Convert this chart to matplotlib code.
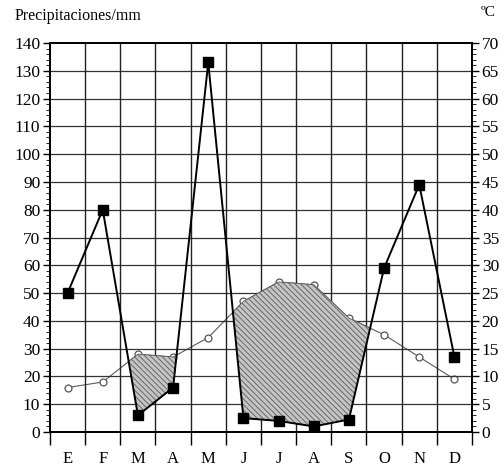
import matplotlib
matplotlib.use("Agg")
import matplotlib.pyplot as plt
import numpy as np

months = ["E", "F", "M", "A", "M", "J", "J", "A", "S", "O", "N", "D"]
precip_mm = [50, 80, 6, 16, 133, 5, 4, 2, 4.5, 59, 89, 27]
temp_c = [8, 9, 14, 13.5, 17, 23.5, 27, 26.5, 20.5, 17.5, 13.5, 9.5]

plt.rcParams['font.family'] = ['Liberation Serif', 'DejaVu Serif']
plt.rcParams['hatch.linewidth'] = 0.6

fig = plt.figure(figsize=(5.04, 4.68), dpi=100)
ax = fig.add_axes([0.0992, 0.0769, 0.8373, 0.8312])
ax2 = ax.twinx()

x = np.arange(len(months)) + 0.5
P = np.array(precip_mm, dtype=float)
T2 = np.array(temp_c, dtype=float) * 2  # climograph convention P = 2T

ax.set_xlim(0, 12)
ax.set_ylim(0, 140)
ax2.set_ylim(0, 70)

# grid
for v in range(10, 140, 10):
    ax.axhline(v, color='#333333', lw=0.9, zorder=1)
for i in range(1, 12):
    ax.axvline(i, color='#222222', lw=1.0, zorder=1)

# shaded arid periods
ax.fill_between(x, P, T2, where=T2 > P, interpolate=True,
                facecolor='#c4c4c4', edgecolor='#5a5a5a', hatch='\\\\\\\\\\\\',
                lw=0.6, zorder=2)

# temperature
ax2.plot(x, temp_c, color='#5a5a5a', lw=0.8, marker='o', ms=5,
         mfc='white', mec='#555555', mew=0.9, zorder=3)
# precipitation
ax.plot(x, precip_mm, color='black', lw=1.4, marker='s', ms=6.5,
        mfc='black', mec='black', zorder=4)
ax.set_zorder(ax2.get_zorder() + 1)
ax.patch.set_visible(False)

ax.set_xticks(np.arange(0, 13))
ax.set_xticklabels([])
ax.set_xticks(x, minor=True)
ax.set_xticklabels(months, minor=True, fontsize=12)
ax.tick_params(axis='x', which='major', length=9, width=1.0, direction='out')
ax.tick_params(axis='x', which='minor', length=0, pad=14)

ax.set_yticks(np.arange(0, 141, 10))
ax.set_yticks(np.arange(0, 141, 2), minor=True)
ax.tick_params(axis='y', which='major', length=5, width=1.0, labelsize=12.5, pad=2)
ax.tick_params(axis='y', which='minor', length=3, width=0.6)

ax2.set_yticks(np.arange(0, 71, 5))
ax2.set_yticks(np.arange(0, 71, 1), minor=True)
ax2.tick_params(axis='y', which='major', length=5, width=1.0, labelsize=12.5, pad=2)
ax2.tick_params(axis='y', which='minor', length=3, width=0.6)

for a in (ax, ax2):
    for s in a.spines.values():
        s.set_linewidth(1.4)
        s.set_color('black')

fig.text(15 / 504, 1 - 16 / 468, "Precipitaciones/mm", fontsize=11.5, va='center', ha='left')
fig.text(488 / 504, 1 - 13 / 468, "ºC", fontsize=11, va='center', ha='center')

fig.savefig("out.png", dpi=100)
